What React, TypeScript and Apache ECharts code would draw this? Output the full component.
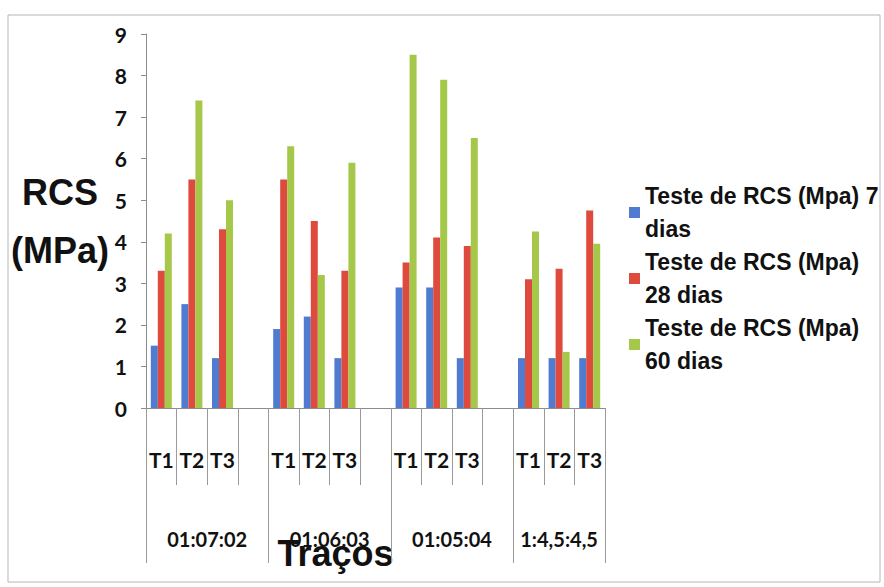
import React, { useEffect, useRef } from "react";
import * as echarts from "echarts";

// ---- data ----
const groups = ["01:07:02", "01:06:03", "01:05:04", "1:4,5:4,5"];
const trials = ["T1", "T2", "T3"];
const seriesNames = [
  "Teste de RCS (Mpa) 7 dias",
  "Teste de RCS (Mpa) 28 dias",
  "Teste de RCS (Mpa) 60 dias",
];
const legendLabels = [
  "Teste de RCS (Mpa) 7\ndias",
  "Teste de RCS (Mpa)\n28 dias",
  "Teste de RCS (Mpa)\n60 dias",
];
const rcs7 = [1.5, 2.5, 1.2, 1.9, 2.2, 1.2, 2.9, 2.9, 1.2, 1.2, 1.2, 1.2];
const rcs28 = [3.3, 5.5, 4.3, 5.5, 4.5, 3.3, 3.5, 4.1, 3.9, 3.1, 3.35, 4.75];
const rcs60 = [4.2, 7.4, 5.0, 6.3, 3.2, 5.9, 8.5, 7.9, 6.5, 4.25, 1.35, 3.95];
const yMin = 0;
const yMax = 9;
const yStep = 1;
const colors = ["#4f7bd0", "#de4a3e", "#a6c84a"];

const ARIAL = "'Liberation Sans', Arial, sans-serif";
const CAL = "Lato, 'Open Sans', sans-serif";

// build category axis with a blank slot between groups
const categories: string[] = [];
const groupBounds: number[] = [0];
const groupCenters: number[] = [];
groups.forEach((g, gi) => {
  const start = categories.length;
  trials.forEach((t) => categories.push(t));
  if (gi < groups.length - 1) categories.push("");
  const end = categories.length;
  groupBounds.push(end);
  groupCenters.push((start + end) / 2);
});

function spread(vals: number[]): (number | string)[] {
  const out: (number | string)[] = [];
  let k = 0;
  groups.forEach((g, gi) => {
    trials.forEach(() => out.push(vals[k++]));
    if (gi < groups.length - 1) out.push("-");
  });
  return out;
}

export default function App() {
  const ref = useRef<HTMLDivElement>(null);
  useEffect(() => {
    const chart = echarts.init(ref.current!, null, { renderer: "svg" });
    const all = [rcs7, rcs28, rcs60];
    chart.setOption({
      animation: false,
      backgroundColor: "#ffffff",
      textStyle: { fontFamily: ARIAL },
      graphic: [
        {
          type: "rect",
          shape: { x: 8, y: 15, width: 872, height: 567 },
          style: { fill: "none", stroke: "#b5b5b5", lineWidth: 1 },
          silent: true,
        },
      ],
      grid: {
        left: 146,
        right: 279,
        top: 34,
        bottom: 179,
        containLabel: false,
        outerBoundsMode: "none",
      },
      legend: {
        orient: "vertical",
        left: 629,
        top: 163,
        padding: 0,
        itemWidth: 11,
        itemHeight: 11,
        itemGap: -33,
        icon: "rect",
        data: seriesNames,
        formatter: (n: string) => legendLabels[seriesNames.indexOf(n)],
        textStyle: {
          fontFamily: ARIAL,
          fontWeight: "bold",
          fontSize: 23,
          lineHeight: 33,
          color: "#111",
          padding: [33, 0, 0, 0],
        },
      },
      xAxis: [
        {
          type: "category",
          data: categories,
          position: "bottom",
          axisLine: { show: true, lineStyle: { color: "#8c8c8c", width: 1 } },
          axisTick: { show: true, interval: 0, length: 77, lineStyle: { color: "#9a9a9a" } },
          axisLabel: {
            interval: 0,
            margin: 41,
            fontFamily: CAL,
            fontWeight: "bold",
            fontSize: 21,
            color: "#111",
            hideOverlap: false,
          },
          splitLine: { show: false },
          name: "Traços",
          nameLocation: "middle",
          nameGap: 127,
          nameTextStyle: {
            fontFamily: ARIAL,
            fontWeight: "bold",
            fontSize: 36,
            color: "#111",
            padding: [0, 80, 0, 0],
          },
        },
        {
          type: "value",
          min: 0,
          max: categories.length,
          position: "bottom",
          axisLine: { show: false },
          splitLine: { show: false },
          axisTick: {
            show: true,
            length: 155,
            customValues: groupBounds,
            lineStyle: { color: "#9a9a9a" },
          },
          axisLabel: {
            show: true,
            margin: 121,
            customValues: groupCenters,
            showMinLabel: true,
            showMaxLabel: true,
            hideOverlap: false,
            formatter: (v: number) => {
              const i = groupCenters.findIndex((c) => Math.abs(c - v) < 1e-6);
              return i >= 0 ? groups[i] : "";
            },
            fontFamily: CAL,
            fontWeight: "bold",
            fontSize: 20,
            color: "#111",
          },
        },
      ],
      yAxis: {
        type: "value",
        min: yMin,
        max: yMax,
        interval: yStep,
        axisLine: { show: true, onZero: false, lineStyle: { color: "#8c8c8c", width: 1 } },
        axisTick: { show: true, length: 5, lineStyle: { color: "#8c8c8c" } },
        splitLine: { show: false },
        axisLabel: {
          margin: 19,
          fontFamily: CAL,
          fontWeight: "bold",
          fontSize: 21,
          color: "#111",
        },
        name: "RCS\n(MPa)",
        nameLocation: "middle",
        nameRotate: 0,
        nameGap: 81,
        nameTextStyle: {
          fontFamily: ARIAL,
          fontWeight: "bold",
          fontSize: 36,
          lineHeight: 58,
          align: "center",
          color: "#111",
        },
      },
      series: all.map((vals, i) => ({
        name: seriesNames[i],
        type: "bar",
        xAxisIndex: 0,
        data: spread(vals),
        barWidth: 7,
        barGap: "0%",
        itemStyle: { color: colors[i] },
      })),
    });
    return () => chart.dispose();
  }, []);
  return (
    <div
      ref={ref}
      style={{ position: "fixed", left: 0, top: 0, width: 884, height: 587, background: "#fff" }}
    />
  );
}
